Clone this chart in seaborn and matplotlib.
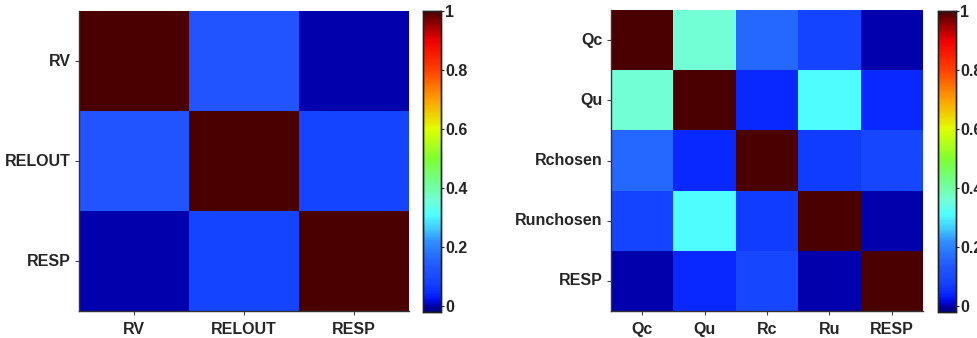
import numpy as np
import pandas as pd
import matplotlib
matplotlib.use("Agg")
import matplotlib.pyplot as plt
from matplotlib.colors import LinearSegmentedColormap
import seaborn as sns

# ---- data ----
left_labels = ["RV", "RELOUT", "RESP"]
left_vals = [
    [1.00, 0.13, 0.00],
    [0.13, 1.00, 0.08],
    [0.00, 0.08, 1.00],
]
right_rows = ["Qc", "Qu", "Rchosen", "Runchosen", "RESP"]
right_cols = ["Qc", "Qu", "Rc", "Ru", "RESP"]
right_vals = [
    [1.00, 0.36, 0.16, 0.08, 0.00],
    [0.36, 1.00, 0.04, 0.31, 0.04],
    [0.16, 0.04, 1.00, 0.07, 0.09],
    [0.08, 0.31, 0.07, 1.00, 0.00],
    [0.00, 0.04, 0.09, 0.00, 1.00],
]
cbar_ticks = [0, 0.2, 0.4, 0.6, 0.8, 1]
cbar_ticklabels = ["0", "0.2", "0.4", "0.6", "0.8", "1"]
vmin, vmax = -0.02, 1.0

# ---- colormap (jet-like, compressed lower end) ----
anchors = [
    (-0.02, "#000080"), (0.00, "#0000AC"), (0.02, "#0010F0"), (0.04, "#0828FF"),
    (0.08, "#1444FF"), (0.13, "#2255FF"), (0.16, "#2468FF"), (0.22, "#3090FF"),
    (0.26, "#40C8FF"), (0.31, "#50FFFF"), (0.36, "#73FFD5"), (0.42, "#70FF90"),
    (0.50, "#80FF30"), (0.60, "#E0FF00"), (0.70, "#FFA000"), (0.80, "#FF4000"),
    (0.90, "#F00000"), (1.00, "#4A0000"),
]
cmap = LinearSegmentedColormap.from_list(
    "custom_jet", [((v - vmin) / (vmax - vmin), c) for v, c in anchors], N=256)

sns.set_style("white")
plt.rcParams["font.family"] = ["Liberation Sans", "DejaVu Sans"]
plt.rcParams["font.weight"] = "bold"

W, H = 977, 338
fig = plt.figure(figsize=(W / 100, H / 100), dpi=100)

def fa(x0, y0, x1, y1):
    return fig.add_axes([x0 / W, 1 - y1 / H, (x1 - x0) / W, (y1 - y0) / H])

axL = fa(79, 11, 409, 311)
cbL = fa(423, 11, 441, 312)
axR = fa(611, 10, 923, 311)
cbR = fa(938, 11, 956, 312)

dfL = pd.DataFrame(left_vals, index=left_labels, columns=left_labels)
dfR = pd.DataFrame(right_vals, index=right_rows, columns=right_cols)

for ax, cax, df in [(axL, cbL, dfL), (axR, cbR, dfR)]:
    sns.heatmap(df, ax=ax, cbar_ax=cax, cmap=cmap, vmin=vmin, vmax=vmax,
                cbar_kws={"ticks": cbar_ticks})
    ax.set_xlabel("")
    ax.set_ylabel("")
    ax.tick_params(axis="both", which="both", direction="out", length=3,
                   width=0.8, color="#444444", labelsize=11.5, pad=3,
                   bottom=True, left=True)
    ax.tick_params(axis="x", pad=5)
    ax.set_yticklabels(ax.get_yticklabels(), rotation=0, fontweight="bold")
    ax.set_xticklabels(ax.get_xticklabels(), rotation=0, fontweight="bold")
    for s in ["left", "bottom"]:
        ax.spines[s].set_visible(True)
        ax.spines[s].set_color("#333333")
        ax.spines[s].set_linewidth(1.0)
    cax.set_yticks(cbar_ticks)
    cax.set_yticklabels(cbar_ticklabels, fontweight="bold")
    cax.tick_params(axis="y", direction="inout", length=4, width=0.8,
                    labelsize=11.5, pad=1, right=True, left=False)
    for s in cax.spines.values():
        s.set_visible(True)
        s.set_color("#222222")
        s.set_linewidth(1.0)

fig.savefig("out.png", dpi=100)
